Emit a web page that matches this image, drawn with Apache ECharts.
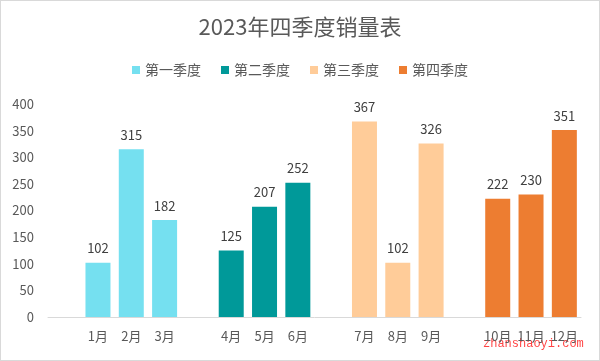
<!DOCTYPE html>
<html><head><meta charset="utf-8">
<script src="https://cdn.jsdelivr.net/npm/echarts@6/dist/echarts.min.js"></script>
<style>html,body{margin:0;padding:0;background:#fff}#c{width:600px;height:361px;box-sizing:border-box;border:1px solid #d9d9d9}</style>
</head><body><div id="c"></div>
<script>
const categories = ["", "1月", "2月", "3月", "", "4月", "5月", "6月", "", "7月", "8月", "9月", "", "10月", "11月", "12月"];
const seriesNames = ["第一季度", "第二季度", "第三季度", "第四季度"];
const q1 = [null, 102, 315, 182, null, null, null, null, null, null, null, null, null, null, null, null];
const q2 = [null, null, null, null, null, 125, 207, 252, null, null, null, null, null, null, null, null];
const q3 = [null, null, null, null, null, null, null, null, null, 367, 102, 326, null, null, null, null];
const q4 = [null, null, null, null, null, null, null, null, null, null, null, null, null, 222, 230, 351];
const yTicks = [0, 50, 100, 150, 200, 250, 300, 350, 400];
const colors = ["#75E0F0", "#009999", "#FFCC99", "#ED7D31"];
const font = "'Noto Sans CJK SC', 'Microsoft YaHei', sans-serif";
const data = [q1, q2, q3, q4];
const chart = echarts.init(document.getElementById('c'));
chart.setOption({
  animation: false,
  title: { text: "2023年四季度销量表", left: 'center', top: 10, textStyle: { fontFamily: font, fontSize: 22, fontWeight: 'normal', color: '#595959' } },
  legend: { top: 57, left: 'center', itemWidth: 8, itemHeight: 8, itemGap: 20, icon: 'rect',
    textStyle: { fontFamily: font, fontSize: 14, color: '#595959' }, data: seriesNames },
  grid: { left: 47, right: 18, top: 103, bottom: 43 },
  xAxis: { type: 'category', data: categories,
    axisLine: { lineStyle: { color: '#d9d9d9' } }, axisTick: { show: false },
    axisLabel: { interval: 0, fontFamily: font, fontSize: 13, color: '#595959', margin: 13 } },
  yAxis: { type: 'value', min: yTicks[0], max: yTicks[yTicks.length - 1], interval: 50,
    splitLine: { show: false }, axisLine: { show: false }, axisTick: { show: false },
    axisLabel: { fontFamily: font, fontSize: 13, color: '#595959', margin: 14 } },
  series: data.map((d, i) => ({
    name: seriesNames[i], type: 'bar', stack: 'all', data: d, barWidth: 25,
    itemStyle: { color: colors[i] },
    label: { show: true, position: 'top', distance: 8, fontFamily: font, fontSize: 13, color: '#404040' }
  })),
  graphic: [{ type: 'text', left: 482, top: 337,
    style: { text: 'zhanshaoyi.com', fill: 'rgba(255,20,20,0.8)', font: "12px 'Liberation Mono', monospace" } }]
});
</script></body></html>
